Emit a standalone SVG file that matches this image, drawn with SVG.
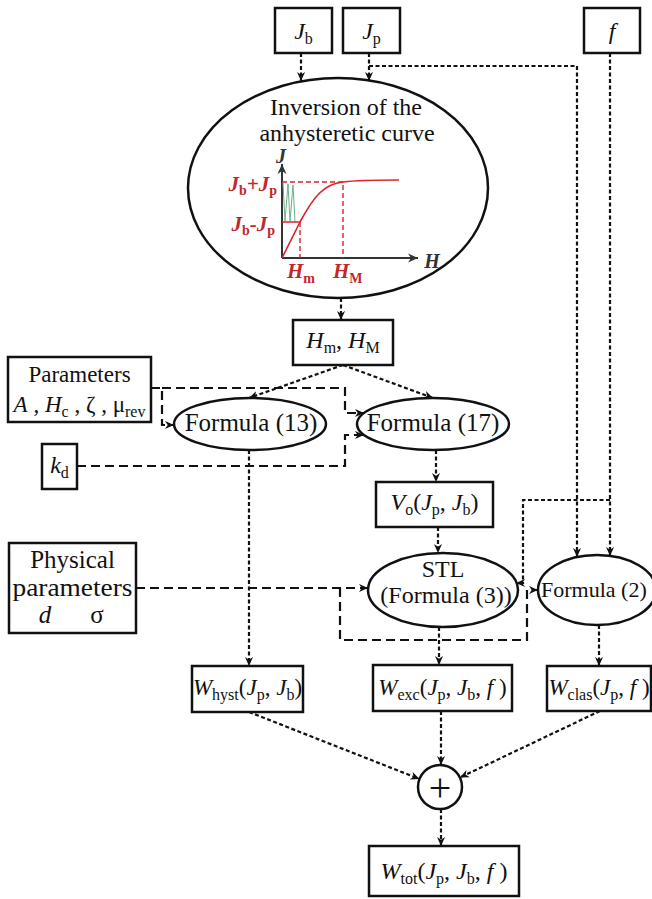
<svg xmlns="http://www.w3.org/2000/svg" width="652" height="899" viewBox="0 0 652 899">
<style>
.box{fill:#fff;stroke:#111;stroke-width:2.5}
.el{fill:#fff;stroke:#111;stroke-width:2.5}
.t{font-family:"Liberation Serif","Times New Roman",serif;font-size:24px;fill:#111}
.i{font-style:italic}
.dot{fill:none;stroke:#111;stroke-width:2.2;stroke-dasharray:4 2.5;marker-end:url(#ah)}
.dashA{fill:none;stroke:#111;stroke-width:2.2;stroke-dasharray:9 5;marker-end:url(#ah)}
.g{font-family:"Liberation Serif","Times New Roman",serif;font-weight:bold;font-style:italic;font-size:21px;fill:#c1272d}
.s{font-style:normal;font-size:14px}
.red{fill:none;stroke:#d8232a;stroke-width:1.6}
.redd{fill:none;stroke:#d8232a;stroke-width:1.4;stroke-dasharray:5 3}
</style>
<defs>
<marker id="ah" viewBox="0 0 10 10" refX="10" refY="5" markerWidth="9" markerHeight="9" markerUnits="userSpaceOnUse" orient="auto">
<path d="M0,0.5 L10,5 L0,9.5 L3,5 z" fill="#111"/>
</marker>
<marker id="ax" viewBox="0 0 10 10" refX="10" refY="5" markerWidth="10" markerHeight="10" markerUnits="userSpaceOnUse" orient="auto">
<path d="M0,0.5 L10,5 L0,9.5 L3,5 z" fill="#333"/>
</marker>
</defs>
<rect width="652" height="899" fill="#fff"/>

<g id="node-Jb"><rect class="box" x="275" y="8" width="57" height="45"/>
<text class="t" x="303.5" y="39" text-anchor="middle"><tspan class="i">J</tspan><tspan font-size="16" dy="5">b</tspan></text></g>
<g id="node-Jp"><rect class="box" x="343" y="8" width="57" height="45"/>
<text class="t" x="371.5" y="39" text-anchor="middle"><tspan class="i">J</tspan><tspan font-size="16" dy="5">p</tspan></text></g>
<g id="node-f"><rect class="box" x="584" y="8" width="56" height="45"/>
<text class="t i" x="612" y="39" text-anchor="middle">f</text></g>

<g id="node-inversion">
<ellipse class="el" cx="338" cy="188" rx="150" ry="110"/>
<text class="t" x="346" y="115" text-anchor="middle">Inversion of the</text>
<text class="t" x="347" y="141" text-anchor="middle">anhysteretic curve</text>
<line x1="282" y1="258" x2="282" y2="164" stroke="#333" stroke-width="2" marker-end="url(#ax)"/>
<line x1="282" y1="258" x2="418" y2="258" stroke="#333" stroke-width="2" marker-end="url(#ax)"/>
<text x="281" y="163" text-anchor="middle" font-family="Liberation Serif, serif" font-weight="bold" font-style="italic" font-size="20" fill="#333">J</text>
<text x="432" y="268" text-anchor="middle" font-family="Liberation Serif, serif" font-weight="bold" font-style="italic" font-size="20" fill="#333">H</text>
<polyline points="283,183 285,221 288,184 290,221 293,185 295,222" fill="none" stroke="#6fb08a" stroke-width="1"/>
<path class="redd" d="M282,182 H343 V258 M300,222 V258"/>
<path class="red" d="M282,222 H300 M282,258 L300,222 C314,196 324,184 343,182 C360,180 380,180 399,180"/>
<text class="g" x="277" y="191" text-anchor="end">J<tspan class="s" dy="4">b</tspan><tspan dy="-4">+J</tspan><tspan class="s" dy="4">p</tspan></text>
<text class="g" x="275" y="231" text-anchor="end">J<tspan class="s" dy="4">b</tspan><tspan dy="-4">-J</tspan><tspan class="s" dy="4">p</tspan></text>
<text class="g" x="287" y="278">H<tspan class="s" dy="5">m</tspan></text>
<text class="g" x="333" y="278">H<tspan class="s" dy="5">M</tspan></text>
</g>

<g id="node-HmHM"><rect class="box" x="293" y="320" width="100" height="45"/>
<text class="t" x="343" y="348" text-anchor="middle"><tspan class="i">H</tspan><tspan font-size="16" dy="5">m</tspan><tspan dy="-5">, </tspan><tspan class="i">H</tspan><tspan font-size="16" dy="5">M</tspan></text></g>

<g id="node-parameters"><rect class="box" x="8" y="357" width="143" height="65"/>
<text class="t" x="79.5" y="382" text-anchor="middle" style="font-size:23px">Parameters</text>
<text class="t" x="79.5" y="412" text-anchor="middle" style="font-size:23px"><tspan class="i">A</tspan> , <tspan class="i">H</tspan><tspan font-size="16" dy="5">c</tspan><tspan dy="-5"> , ζ , μ</tspan><tspan font-size="16" dy="5">rev</tspan></text></g>

<g id="node-kd"><rect class="box" x="42" y="444" width="35" height="45"/>
<text class="t" x="59.5" y="473" text-anchor="middle"><tspan class="i">k</tspan><tspan font-size="16" dy="5">d</tspan></text></g>

<g id="node-f13"><ellipse class="el" cx="250" cy="424" rx="76" ry="26"/>
<text class="t" x="251" y="431" text-anchor="middle" style="font-size:25px">Formula (13)</text></g>
<g id="node-f17"><ellipse class="el" cx="433" cy="424" rx="76" ry="26"/>
<text class="t" x="433" y="431" text-anchor="middle" style="font-size:25px">Formula (17)</text></g>

<g id="node-Vo"><rect class="box" x="376" y="482" width="117" height="45"/>
<text class="t" x="434.5" y="510" text-anchor="middle"><tspan class="i">V</tspan><tspan font-size="16" dy="5">o</tspan><tspan dy="-5">(</tspan><tspan class="i">J</tspan><tspan font-size="16" dy="5">p</tspan><tspan dy="-5">, </tspan><tspan class="i">J</tspan><tspan font-size="16" dy="5">b</tspan><tspan dy="-5">)</tspan></text></g>

<g id="node-physical"><rect class="box" x="9" y="543" width="127" height="90"/>
<text class="t" x="72.5" y="568" text-anchor="middle" style="font-size:25px">Physical</text>
<text class="t" x="72.5" y="596" text-anchor="middle" style="font-size:25px" textLength="120" lengthAdjust="spacingAndGlyphs">parameters</text>
<text class="t i" x="45" y="623" text-anchor="middle" style="font-size:25px">d</text>
<text class="t" x="97" y="623" text-anchor="middle" style="font-size:25px">σ</text></g>

<g id="node-stl"><ellipse class="el" cx="443" cy="590" rx="75" ry="37"/>
<text class="t" x="443" y="577" text-anchor="middle">STL</text>
<text class="t" x="446" y="603" text-anchor="middle">(Formula (3))</text></g>

<g id="node-f2"><ellipse class="el" cx="597" cy="590" rx="59" ry="35"/>
<text class="t" x="541" y="597" style="font-size:22px">Formula (2)</text></g>

<g id="node-Whyst"><rect class="box" x="192" y="666" width="111" height="46"/>
<text class="t" x="247.5" y="695" text-anchor="middle" style="font-size:23px"><tspan class="i">W</tspan><tspan font-size="16" dy="5">hyst</tspan><tspan dy="-5">(</tspan><tspan class="i">J</tspan><tspan font-size="16" dy="5">p</tspan><tspan dy="-5">, </tspan><tspan class="i">J</tspan><tspan font-size="16" dy="5">b</tspan><tspan dy="-5">)</tspan></text></g>

<g id="node-Wexc"><rect class="box" x="373" y="665" width="139" height="46"/>
<text class="t" x="442.5" y="695" text-anchor="middle" style="font-size:23px"><tspan class="i">W</tspan><tspan font-size="16" dy="5">exc</tspan><tspan dy="-5">(</tspan><tspan class="i">J</tspan><tspan font-size="16" dy="5">p</tspan><tspan dy="-5">, </tspan><tspan class="i">J</tspan><tspan font-size="16" dy="5">b</tspan><tspan dy="-5">, </tspan><tspan class="i">f</tspan><tspan> )</tspan></text></g>

<g id="node-Wclas"><rect class="box" x="547" y="666" width="104" height="45"/>
<text class="t" x="599" y="695" text-anchor="middle" style="font-size:23px"><tspan class="i">W</tspan><tspan font-size="16" dy="5">clas</tspan><tspan dy="-5">(</tspan><tspan class="i">J</tspan><tspan font-size="16" dy="5">p</tspan><tspan dy="-5">, </tspan><tspan class="i">f</tspan><tspan> )</tspan></text></g>

<g id="node-sum"><circle cx="440" cy="787" r="22" fill="#fff" stroke="#111" stroke-width="2.5"/>
<text class="t" x="440" y="801" text-anchor="middle" style="font-size:40px">+</text></g>

<g id="node-Wtot"><rect class="box" x="369" y="846" width="150" height="50"/>
<text class="t" x="444" y="879" text-anchor="middle"><tspan class="i">W</tspan><tspan font-size="16" dy="5">tot</tspan><tspan dy="-5">(</tspan><tspan class="i">J</tspan><tspan font-size="16" dy="5">p</tspan><tspan dy="-5">, </tspan><tspan class="i">J</tspan><tspan font-size="16" dy="5">b</tspan><tspan dy="-5">, </tspan><tspan class="i">f</tspan><tspan> )</tspan></text></g>

<g id="connectors">
<path class="dot" d="M301,53 V81"/>
<path class="dot" d="M369,53 V81"/>
<path class="dot" d="M369,66 H577 V557"/>
<path class="dot" d="M610,53 V556"/>
<path class="dot" d="M610,500 H523 V583 H516"/>
<path class="dot" d="M341,298 V320"/>
<path class="dot" d="M343,365 L249,398"/>
<path class="dot" d="M343,365 L433,398"/>
<path class="dashA" d="M151,388 H162 V425 H174"/>
<path class="dashA" d="M162,388 H345 V413 H364"/>
<path class="dashA" d="M77,466 H345 V435 H364"/>
<path class="dot" d="M249,450 V666"/>
<path class="dot" d="M436,450 V482"/>
<path class="dot" d="M438,527 V553"/>
<path class="dashA" d="M136,588 H368"/>
<path class="dashA" d="M340,588 V640 H527 V590 H538"/>
<path class="dot" d="M439,627 V665"/>
<path class="dot" d="M599,625 V666"/>
<path class="dot" d="M249,712 L419.5,779"/>
<path class="dot" d="M441,711 V765"/>
<path class="dot" d="M600,711 L460,777.5"/>
<path class="dot" d="M441,809 V846"/>
</g>
</svg>
